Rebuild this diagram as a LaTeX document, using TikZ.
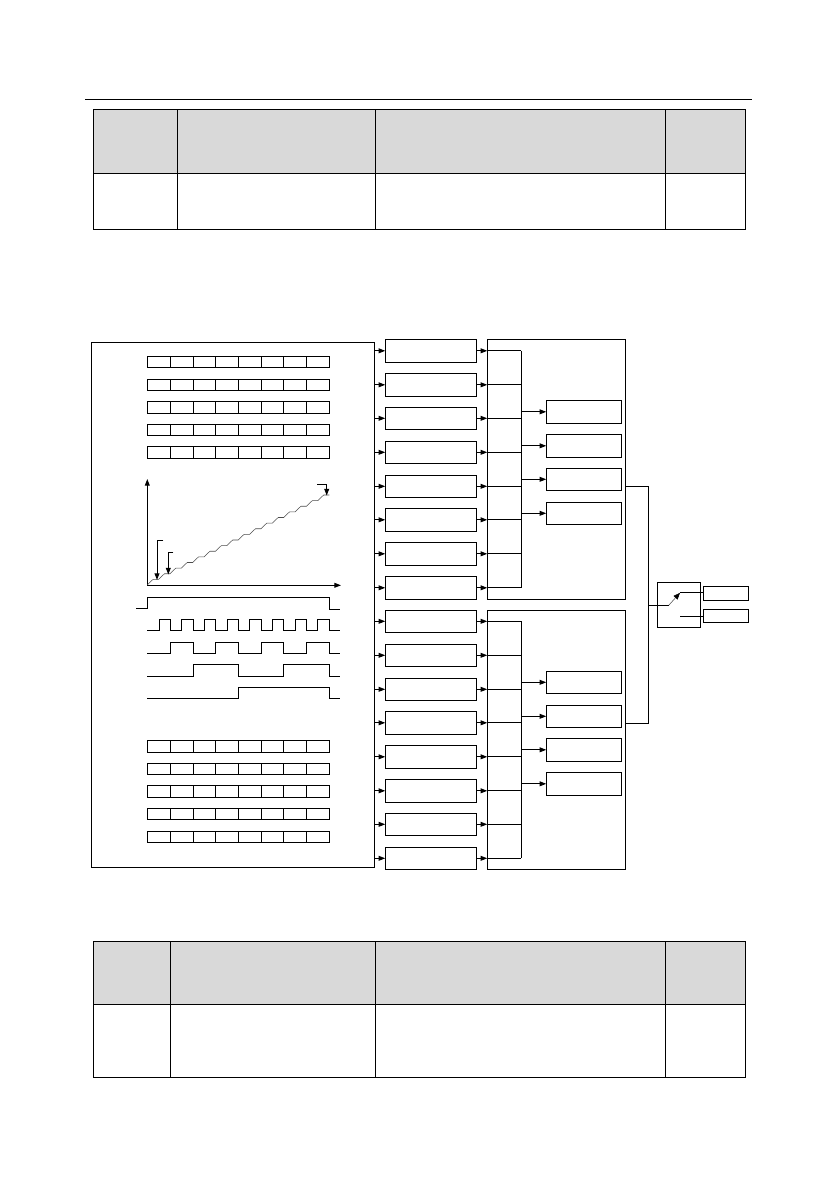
\documentclass[tikz,border=0pt]{standalone}
\usetikzlibrary{arrows.meta}
\tikzset{
  sigline/.style={line width=0.85pt},
  sigarrow/.style={line width=0.85pt,-{Triangle[length=2mm,width=1.45mm]}},
  stepline/.style={line width=0.45pt,color=black!70},
  blockbox/.style={draw,line width=0.85pt,anchor=north west,inner sep=0pt,outer sep=0pt,minimum width=91*0.03cm},
  innerbox/.style={draw,line width=0.85pt,anchor=north west,inner sep=0pt,outer sep=0pt,minimum width=75*0.03cm},
  groupbox/.style={draw,line width=0.85pt,anchor=north west,inner sep=0pt,outer sep=0pt,minimum width=138*0.03cm},
  headcell/.style={fill=black!15,draw=black,line width=0.85pt},
  bodycell/.style={draw=black,line width=0.85pt}
}
\begin{document}
\begin{tikzpicture}[x=0.03cm,y=-0.03cm]
  \useasboundingbox (0,0) rectangle (839,1191);
  \draw[line width=0.85pt] (85,99.4)--(752,99.4);
  % top table
  \foreach \a/\b in {93.4/177.5,177.5/375.2,375.2/665.2,665.2/745.4}{
    \draw[headcell] (\a,109.3) rectangle (\b,173.3);
    \draw[bodycell] (\a,173.3) rectangle (\b,229.3);
  }
  % bottom table
  \foreach \a/\b in {93.4/170.6,170.6/375.2,375.2/665.2,665.2/745.4}{
    \draw[headcell] (\a,941.3) rectangle (\b,1004);
    \draw[bodycell] (\a,1004) rectangle (\b,1077);
  }
  % left panel
  \node[draw,line width=0.85pt,anchor=north west,inner sep=0pt,outer sep=0pt,minimum width=283*0.03cm,minimum height=525*0.03cm] (panel) at (91.3,342.3) {};
  \foreach \y/\h in {356.3/11,379.3/11,401.3/12,424.3/11,446.3/12,740.3/12,763.3/11,785.3/12,808.3/11,831.3/11}{
    \draw[sigline] (147.3,\y) rectangle (329.3,\y+\h);
    \foreach \x in {170.3,193.3,215.3,238.7,261.3,283.7,306.3}{
      \draw[sigline] (\x,\y)--(\x,\y+\h);
    }
  }
  % axes and staircase
  \draw[sigarrow] (147.3,585.3)--(147.3,479);
  \draw[sigarrow] (147.3,585.3)--(341,585.3);
  \draw[stepline] (147.3,585) foreach \i in {0,...,15}{
    -- ({147.3+\i*11.375+5.7},{585-(\i+1)*5.625}) -- ({147.3+(\i+1)*11.375},{585-(\i+1)*5.625})};
  \draw[sigarrow] (163.3,540.3)--(157,540.3)--(157,580);
  \draw[sigarrow] (173.3,552.3)--(168.3,552.3)--(168.3,574.5);
  \draw[sigarrow] (317.3,484.3)--(326.7,484.3)--(326.7,495.5);
  % waves
  \draw[sigline] (136,608.3)--(147.3,608.3)--(147.3,597.3)--(329.3,597.3)--(329.3,609.3)--(340,609.3);
  \draw[sigline] (147.3,630.3) foreach \r/\f in {159.3/170.3,181.3/193.3,204.3/215.3,227.3/238.7,249.3/261.3,272.3/283.7,295.3/306.3,317.3/329.3}{
    -- (\r,630.3) -- (\r,619.3) -- (\f,619.3) -- (\f,630.3)} -- (340,630.3);
  \draw[sigline] (147.3,653.3) foreach \r/\f in {170.3/193.3,215.3/238.7,261.3/283.7,306.3/329.3}{
    -- (\r,653.3) -- (\r,642.3) -- (\f,642.3) -- (\f,653.3)} -- (340,653.3);
  \draw[sigline] (147.3,676.3) foreach \r/\f in {193.3/238.7,283.7/329.3}{
    -- (\r,676.3) -- (\r,664.3) -- (\f,664.3) -- (\f,676.3)} -- (340,676.3);
  \draw[sigline] (147.3,698.3)--(238.7,698.3)--(238.7,687.3)--(329.3,687.3)--(329.3,698.3)--(340,698.3);
  % groups
  \node[groupbox,minimum height=260*0.03cm] (groupa) at (487.3,339.3) {};
  \node[groupbox,minimum height=259*0.03cm] (groupb) at (487.3,610.3) {};
  \coordinate (busa) at (521.3,351.3);
  \coordinate (busb) at (521.3,621.5);
  % blocks
  \foreach \n/\y/\h in {1/339.3/23,2/373.3/23,3/407.3/22,4/441.3/22,5/475.3/22,6/508.3/23,7/542.3/23,8/576.3/23}{
    \node[blockbox,minimum height=\h*0.03cm] (a\n) at (385.3,\y) {};
    \draw[sigarrow] (panel.east |- a\n.west)--(a\n.west);
    \draw[sigarrow] (a\n.east)--(a\n.east -| groupa.west);
    \draw[sigline] (a\n.east -| groupa.west)--(a\n.east -| busa);
  }
  \foreach \n/\y/\h in {1/610.3/22,2/644.3/22,3/678.3/22,4/711.3/23,5/745.3/23,6/779.3/23,7/813.3/22,8/847.3/22}{
    \node[blockbox,minimum height=\h*0.03cm] (b\n) at (385.3,\y) {};
    \draw[sigarrow] (panel.east |- b\n.west)--(b\n.west);
    \draw[sigarrow] (b\n.east)--(b\n.east -| groupb.west);
    \draw[sigline] (b\n.east -| groupb.west)--(b\n.east -| busb);
  }
  \draw[sigline] (a1.east -| busa)--(a8.east -| busa);
  \draw[sigline] (b1.east -| busb)--(b8.east -| busb);
  % inner blocks
  \foreach \n/\y/\h in {1/400.3/23,2/434.3/23,3/468.3/22,4/502.3/22}{
    \node[innerbox,minimum height=\h*0.03cm] (p\n) at (546.3,\y) {};
    \draw[sigarrow] (p\n.west -| busa)--(p\n.west);
  }
  \foreach \n/\y/\h in {1/671.3/22,2/705.3/22,3/738.3/23,4/772.3/23}{
    \node[innerbox,minimum height=\h*0.03cm] (q\n) at (546.3,\y) {};
    \draw[sigarrow] (q\n.west -| busb)--(q\n.west);
  }
  % switch
  \node[draw,line width=0.85pt,anchor=north west,inner sep=0pt,outer sep=0pt,minimum width=43.4*0.03cm,minimum height=45*0.03cm] (switch) at (657.3,582.3) {};
  \node[draw,line width=0.85pt,anchor=north west,inner sep=0pt,outer sep=0pt,minimum width=45.4*0.03cm,minimum height=14*0.03cm] (outa) at (703.3,586.3) {};
  \node[draw,line width=0.85pt,anchor=north west,inner sep=0pt,outer sep=0pt,minimum width=45.4*0.03cm,minimum height=13*0.03cm] (outb) at (703.3,609.3) {};
  \coordinate (merge) at (648.3,605.3);
  \coordinate (pivot) at (668.7,605.3);
  \coordinate (conta) at (680,592.8);
  \coordinate (contb) at (680,616.3);
  \draw[sigline] (groupa.east |- 0,486)--(merge |- 0,486)--(merge |- 0,723.3)--(groupb.east |- 0,723.3);
  \draw[sigline] (merge)--(pivot);
  \draw[line width=0.45pt,color=black!70,-{Triangle[black,length=2mm,width=1.6mm]}] (pivot)--(conta);
  \draw[sigline] (conta)--(conta -| outa.west);
  \draw[sigline] (contb)--(contb -| outb.west);
\end{tikzpicture}
\end{document}
